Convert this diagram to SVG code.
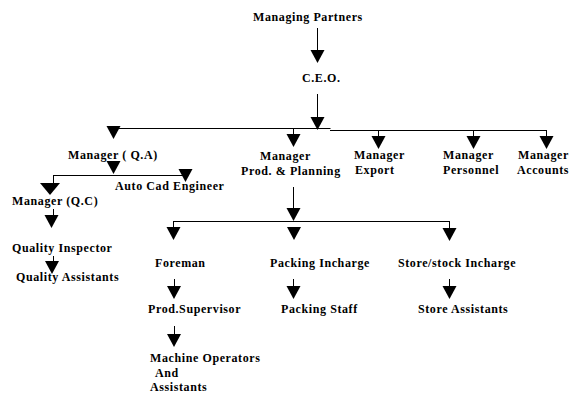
<svg xmlns="http://www.w3.org/2000/svg" xmlns:xlink="http://www.w3.org/1999/xlink" width="578" height="410" viewBox="0 0 578 410">
<style>
text{font-family:"Liberation Serif","Times New Roman",serif;font-weight:bold;font-size:12px;letter-spacing:0.6px;fill:#000}
.ln{stroke:#000;stroke-width:1;fill:none}
.tri{fill:#000}
</style>
<defs>
<path id="tri" d="M-7,0 L7,0 L0,13 Z"/>
<path id="triw" d="M-10,0 L10,0 L0,12 Z"/>
</defs>
<rect width="578" height="410" fill="#fff"/>
<g id="connectors">
<path class="ln" d="M317.5,28 V51 M317.5,94 V118 M113,128.5 H330.5 M330,130.5 H546.5 M293.5,128 V135 M378.5,130 V137 M473.5,130 V137 M546.5,130 V137 M53,175.5 H186 M53.5,175 V184 M53.5,209 V216 M53.5,256 V262 M293.5,187 V209 M173,221.5 H449.5 M173.5,221 V228 M449.5,221 V229 M174.5,279 V287 M293.5,279 V287 M449.5,279 V287 M174.5,326 V335"/>
<use xlink:href="#tri" href="#tri" x="317.5" y="50"/>
<use xlink:href="#tri" href="#tri" x="317.5" y="117"/>
<use xlink:href="#tri" href="#tri" x="113.5" y="126"/>
<use xlink:href="#tri" href="#tri" x="293.5" y="134"/>
<use xlink:href="#tri" href="#tri" x="378.5" y="136"/>
<use xlink:href="#tri" href="#tri" x="473.5" y="136"/>
<use xlink:href="#tri" href="#tri" x="546.5" y="136"/>
<use xlink:href="#tri" href="#tri" x="113.5" y="161"/>
<use xlink:href="#tri" href="#tri" x="185.5" y="169"/>
<use xlink:href="#triw" href="#triw" x="50" y="183"/>
<use xlink:href="#tri" href="#tri" x="51.5" y="215"/>
<use xlink:href="#tri" href="#tri" x="52" y="261"/>
<use xlink:href="#tri" href="#tri" x="293.5" y="208"/>
<use xlink:href="#tri" href="#tri" x="173.5" y="227"/>
<use xlink:href="#tri" href="#tri" x="294" y="227"/>
<use xlink:href="#tri" href="#tri" x="449.5" y="228"/>
<use xlink:href="#tri" href="#tri" x="174" y="286"/>
<use xlink:href="#tri" href="#tri" x="293.5" y="286"/>
<use xlink:href="#tri" href="#tri" x="449.5" y="286"/>
<use xlink:href="#tri" href="#tri" x="174" y="334"/>
</g>
<g id="managing-partners"><text x="253" y="21">Managing Partners</text></g>
<g id="ceo"><text x="302" y="82">C.E.O.</text></g>
<g id="manager-qa"><text x="68" y="159">Manager ( Q.A)</text></g>
<g id="manager-prod"><text x="260" y="160">Manager</text><text x="241" y="175">Prod. &amp; Planning</text></g>
<g id="manager-export"><text x="354" y="159">Manager</text><text x="355" y="174">Export</text></g>
<g id="manager-personnel"><text x="443" y="159">Manager</text><text x="443" y="174">Personnel</text></g>
<g id="manager-accounts"><text x="518" y="159">Manager</text><text x="517" y="174">Accounts</text></g>
<g id="autocad"><text x="115" y="190">Auto Cad Engineer</text></g>
<g id="manager-qc"><text x="12" y="205">Manager (Q.C)</text></g>
<g id="quality-inspector"><text x="12" y="252">Quality Inspector</text></g>
<g id="quality-assistants"><text x="16" y="281">Quality Assistants</text></g>
<g id="foreman"><text x="155" y="267">Foreman</text></g>
<g id="packing-incharge"><text x="270" y="267">Packing Incharge</text></g>
<g id="store-incharge"><text x="398" y="267">Store/stock Incharge</text></g>
<g id="prod-supervisor"><text x="148" y="313">Prod.Supervisor</text></g>
<g id="packing-staff"><text x="281" y="313">Packing Staff</text></g>
<g id="store-assistants"><text x="418" y="313">Store Assistants</text></g>
<g id="machine-operators"><text x="150" y="362">Machine Operators</text><text x="155" y="377">And</text><text x="150" y="391">Assistants</text></g>
</svg>
